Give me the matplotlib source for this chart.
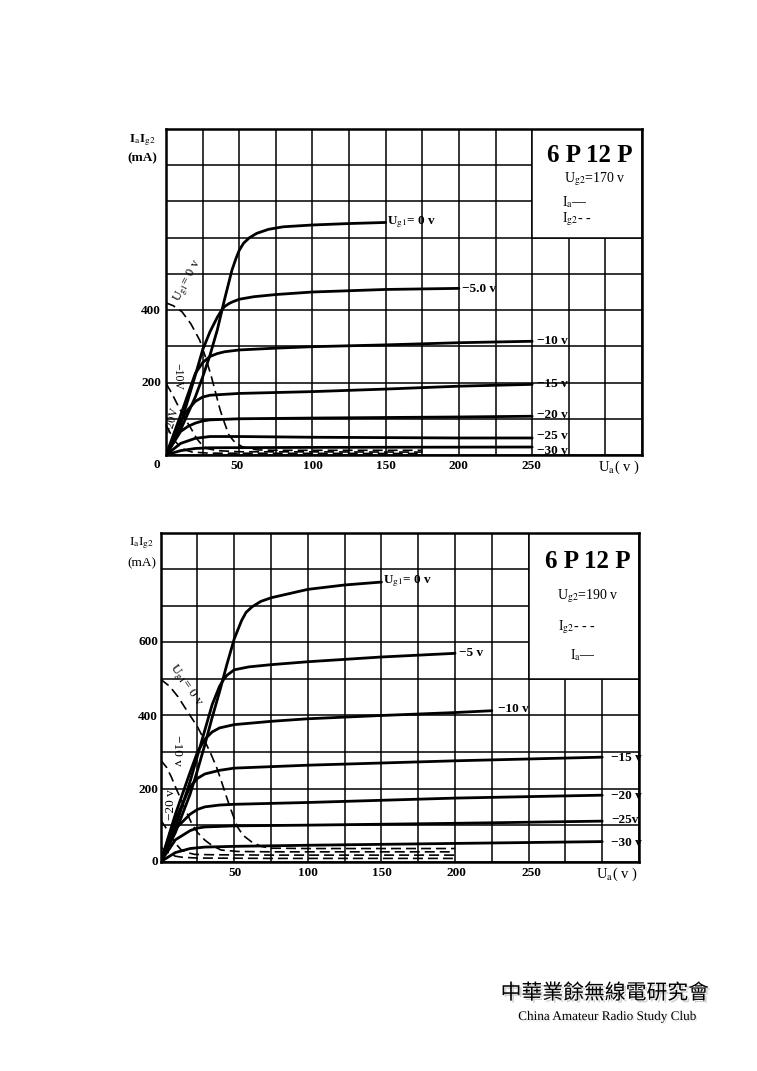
import matplotlib
matplotlib.use('Agg')
import matplotlib.pyplot as plt
import matplotlib.patheffects as pe
from matplotlib.patches import Rectangle
import numpy as np

plt.rcParams['font.family'] = ['Liberation Serif', 'DejaVu Serif']
plt.rcParams['mathtext.fontset'] = 'stix'

# ---- 위 그래프: 6P12P, Ug2 = 170 V ----
# 양극 전류 Ia (실선)
t1_v_0 = [0, 10, 20, 25, 30, 35, 40, 45, 48, 50, 53, 57, 62, 70, 80, 100, 125, 150]
t1_i_0 = [0, 70, 160, 215, 275, 345, 430, 510, 545, 565, 585, 600, 612, 623, 630, 635, 639, 642]
t1_v_5 = [0, 10, 20, 25, 30, 35, 38, 40, 43, 45, 50, 60, 75, 100, 150, 200]
t1_i_5 = [0, 85, 220, 290, 340, 380, 400, 410, 418, 422, 430, 437, 443, 450, 457, 460]
t1_v_10 = [0, 10, 20, 25, 30, 35, 40, 50, 75, 100, 150, 200, 250]
t1_i_10 = [0, 110, 225, 255, 272, 280, 285, 290, 295, 299, 304, 310, 314]
t1_v_15 = [0, 10, 15, 20, 25, 30, 50, 100, 150, 200, 250]
t1_i_15 = [0, 95, 125, 148, 160, 165, 170, 175, 182, 190, 195]
t1_v_20 = [0, 10, 15, 20, 25, 30, 50, 100, 200, 250]
t1_i_20 = [0, 65, 79, 88, 94, 97, 100, 102, 105, 107]
t1_v_25 = [0, 10, 20, 30, 50, 100, 200, 250]
t1_i_25 = [0, 32, 46, 51, 51, 49, 47, 47]
t1_v_30 = [0, 10, 20, 30, 100, 250]
t1_i_30 = [0, 12, 18, 20, 21, 22]
# 스크린 전류 Ig2 (점선)
t1_gv_0 = [0, 5, 11, 17, 23, 27, 31, 34, 37, 40, 43, 47, 52, 58, 63, 75, 100, 175]
t1_gi_0 = [420, 412, 395, 362, 317, 270, 216, 170, 124, 88, 55, 35, 23, 17, 14, 13, 13, 13]
t1_gv_10 = [0, 4, 8.6, 13, 17.7, 21, 24.5, 28, 35, 50, 175]
t1_gi_10 = [198, 170, 133, 100, 69, 45, 28, 18, 12, 9, 8]
t1_gv_20 = [0, 3, 6.4, 10, 13, 18, 30, 175]
t1_gi_20 = [83, 60, 37, 22, 14, 8, 5, 4]

# ---- 아래 그래프: 6P12P, Ug2 = 190 V ----
t2_v_0 = [0, 10, 20, 25, 30, 35, 40, 45, 50, 55, 58, 62, 68, 75, 100, 125, 150]
t2_i_0 = [0, 80, 185, 250, 320, 395, 465, 540, 610, 660, 682, 697, 712, 722, 745, 757, 765]
t2_v_5 = [0, 10, 20, 25, 30, 35, 40, 43, 45, 50, 60, 75, 100, 150, 200]
t2_i_5 = [0, 95, 220, 290, 360, 430, 480, 500, 510, 525, 533, 539, 547, 560, 570]
t2_v_10 = [0, 10, 20, 25, 30, 35, 40, 50, 75, 100, 150, 200, 225]
t2_i_10 = [0, 130, 245, 300, 335, 355, 366, 375, 384, 391, 400, 408, 413]
t2_v_15 = [0, 10, 20, 25, 30, 40, 50, 75, 100, 150, 200, 250, 300]
t2_i_15 = [0, 115, 205, 228, 240, 250, 256, 260, 264, 270, 276, 281, 286]
t2_v_20 = [0, 10, 20, 25, 30, 40, 50, 100, 150, 200, 250, 300]
t2_i_20 = [0, 90, 130, 143, 150, 155, 157, 162, 168, 174, 178, 182]
t2_v_25 = [0, 10, 20, 25, 30, 50, 100, 200, 300]
t2_i_25 = [0, 60, 85, 92, 95, 98, 100, 105, 111]
t2_v_30 = [0, 10, 20, 30, 50, 100, 200, 300]
t2_i_30 = [0, 25, 36, 40, 42, 45, 50, 55]
t2_gv_0 = [0, 6, 11.8, 18, 25, 30, 34, 38, 41, 44, 47, 50, 52, 56, 61.5, 68, 75, 100, 200]
t2_gi_0 = [499, 480, 451, 412, 369, 330, 296, 258, 223, 186, 150, 118, 96, 72, 55, 42, 37, 36, 36]
t2_gv_10 = [0, 4, 7.2, 10.5, 14, 17.5, 21, 25, 30, 35, 41, 52, 75, 200]
t2_gi_10 = [278, 258, 232, 200, 169, 136, 105, 80, 59, 44, 32, 28, 27, 27]
t2_gv_20 = [0, 4, 7.2, 10.5, 14, 18, 23, 35, 75, 200]
t2_gi_20 = [114, 90, 68, 48, 32, 25, 20, 19, 18, 18]
t2_gv_30 = [0, 5, 10, 15, 25, 75, 200]
t2_gi_30 = [40, 25, 15, 12, 10, 9, 9]

W, H = 757, 1071
fig = plt.figure(figsize=(W / 100, H / 100), dpi=100)
fig.patch.set_facecolor('white')


def fxy(x, y):
    # 픽셀 좌표 -> figure 좌표
    return x / W, 1 - y / H


def make_axes(left, top, right, bottom, box_bottom):
    ax = fig.add_axes([left / W, 1 - bottom / H, (right - left) / W, (bottom - top) / H])
    ax.set_xlim(0, 325)
    ax.set_ylim(0, 900)
    ax.set_xticks(np.arange(0, 326, 25))
    ax.set_yticks(np.arange(0, 901, 100))
    ax.grid(True, color='black', lw=1.1)
    ax.set_axisbelow(True)
    ax.tick_params(length=0, labelbottom=False, labelleft=False)
    for s in ax.spines.values():
        s.set_linewidth(1.8)
    ax.add_patch(Rectangle((250, box_bottom), 75, 900 - box_bottom, facecolor='white',
                           edgecolor='black', lw=1.1, zorder=1))
    return ax


ax1 = make_axes(166, 129, 642, 455, 600)
ax2 = make_axes(160.7, 532.7, 639, 861.7, 500)

solid = dict(color='black', lw=2.0, zorder=3, solid_capstyle='round', solid_joinstyle='round')
dash = dict(color='black', lw=1.2, zorder=3, dashes=(6, 3))

for v, i in [(t1_v_0, t1_i_0), (t1_v_5, t1_i_5), (t1_v_10, t1_i_10), (t1_v_15, t1_i_15),
             (t1_v_20, t1_i_20), (t1_v_25, t1_i_25), (t1_v_30, t1_i_30)]:
    ax1.plot(v, i, **solid)
for v, i in [(t1_gv_0, t1_gi_0), (t1_gv_10, t1_gi_10), (t1_gv_20, t1_gi_20)]:
    ax1.plot(v, i, **dash)

for v, i in [(t2_v_0, t2_i_0), (t2_v_5, t2_i_5), (t2_v_10, t2_i_10), (t2_v_15, t2_i_15),
             (t2_v_20, t2_i_20), (t2_v_25, t2_i_25), (t2_v_30, t2_i_30)]:
    ax2.plot(v, i, **solid)
for v, i in [(t2_gv_0, t2_gi_0), (t2_gv_10, t2_gi_10), (t2_gv_20, t2_gi_20), (t2_gv_30, t2_gi_30)]:
    ax2.plot(v, i, **dash)

lab = dict(fontsize=9.5, fontweight='bold', va='center', ha='left', zorder=4, clip_on=False)

# 위 그래프 곡선 이름
ax1.text(151, 643, r'U$_{\rm g1}$= 0 v', **lab)
ax1.text(202, 458, '−5.0 v', **lab)
ax1.text(253, 315, '−10 v', **lab)
ax1.text(253, 196, '−15 v', **lab)
ax1.text(253, 110, '−20 v', **lab)
ax1.text(253, 52, '−25 v', **lab)
ax1.text(253, 11, '−30 v', **lab)
ax1.text(15, 480, r'U$_{\rm g1}$= 0 v', fontsize=9, rotation=62, ha='center', va='center', zorder=4)
ax1.text(7.5, 218, '−10V', fontsize=8.5, rotation=-90, ha='center', va='center', zorder=4)
ax1.text(4, 97, '−20V', fontsize=8.5, rotation=75, ha='center', va='center', zorder=4)

# 아래 그래프 곡선 이름
ax2.text(151, 767, r'U$_{\rm g1}$= 0 v', **lab)
ax2.text(203, 570, '−5 v', **lab)
ax2.text(229, 418, '−10 v', **lab)
ax2.text(306, 284, '−15 v', **lab)
ax2.text(306, 180, '−20 v', **lab)
ax2.text(306, 114, '−25v', **lab)
ax2.text(306, 51, '−30 v', **lab)
ax2.text(17, 483, r'U$_{\rm g1}$= 0 v', fontsize=9.5, rotation=-55, ha='center', va='center', zorder=4)
ax2.text(11, 305, '−10 v', fontsize=9.5, rotation=-90, ha='center', va='center', zorder=4)
ax2.text(7, 155, '−20 v', fontsize=9.5, rotation=90, ha='center', va='center', zorder=4)

tick = dict(fontsize=9.5, fontweight='bold', va='center')

# 위 그래프 눈금 글자
for y, s in [(311, '400'), (383, '200')]:
    fig.text(*fxy(161, y), s, ha='right', **tick)
fig.text(*fxy(157, 465), '0', ha='center', **tick)
for x, s in [(237, '50'), (313, '100'), (386, '150'), (458, '200'), (531, '250')]:
    fig.text(*fxy(x, 466), s, ha='center', **tick)
fig.text(*fxy(619, 467), r'U$_{\rm a}$( v )', ha='center', va='center', fontsize=10.5)
fig.text(*fxy(142, 140), r'I$_{\rm a}$I$_{\rm g2}$', ha='center', va='center', fontsize=9.5, fontweight='bold')
fig.text(*fxy(142, 158), '(mA)', ha='center', va='center', fontsize=9.5, fontweight='bold')

# 아래 그래프 눈금 글자
for y, s in [(642, '600'), (717, '400'), (790, '200'), (862, '0')]:
    fig.text(*fxy(158, y), s, ha='right', **tick)
for x, s in [(235, '50'), (308, '100'), (382, '150'), (456, '200'), (531, '250')]:
    fig.text(*fxy(x, 873), s, ha='center', **tick)
fig.text(*fxy(617, 874), r'U$_{\rm a}$( v )', ha='center', va='center', fontsize=10.5)
fig.text(*fxy(142, 543), r'I$_{\rm a}$I$_{\rm g2}$', ha='center', va='center', fontsize=9.5)
fig.text(*fxy(142, 563), '(mA)', ha='center', va='center', fontsize=9.5)

# 오른쪽 위 박스 (형명, 조건, 범례)
fig.text(*fxy(590, 156), '6 P 12 P', ha='center', va='center', fontsize=18, fontweight='bold')
fig.text(*fxy(595, 179), r'U$_{\rm g2}$=170 v', ha='center', va='center', fontsize=10)
fig.text(*fxy(562, 202), r'I$_{\rm a}$—', ha='left', va='center', fontsize=10)
fig.text(*fxy(562, 219), r'I$_{\rm g2}$- -', ha='left', va='center', fontsize=10)

fig.text(*fxy(588, 562), '6 P 12 P', ha='center', va='center', fontsize=18, fontweight='bold')
fig.text(*fxy(588, 596), r'U$_{\rm g2}$=190 v', ha='center', va='center', fontsize=10)
fig.text(*fxy(558, 627), r'I$_{\rm g2}$- - -', ha='left', va='center', fontsize=10)
fig.text(*fxy(570, 655), r'I$_{\rm a}$—', ha='left', va='center', fontsize=10)

# 아래 로고
shadow = [pe.SimplePatchShadow(offset=(1.5, -1.5), shadow_rgbFace='#999999', alpha=0.45), pe.Normal()]
fig.text(*fxy(605, 993), '中華業餘無線電研究會', ha='center', va='center', fontsize=15,
         family=['Noto Sans CJK TC', 'DejaVu Sans'], path_effects=shadow)
fig.text(*fxy(608, 1017), 'China Amateur Radio Study Club', ha='center', va='center',
         fontsize=9.5, path_effects=[pe.SimplePatchShadow(offset=(1, -1), shadow_rgbFace='#bbbbbb',
                                                          alpha=0.4), pe.Normal()])

fig.savefig('out.png', dpi=100)
